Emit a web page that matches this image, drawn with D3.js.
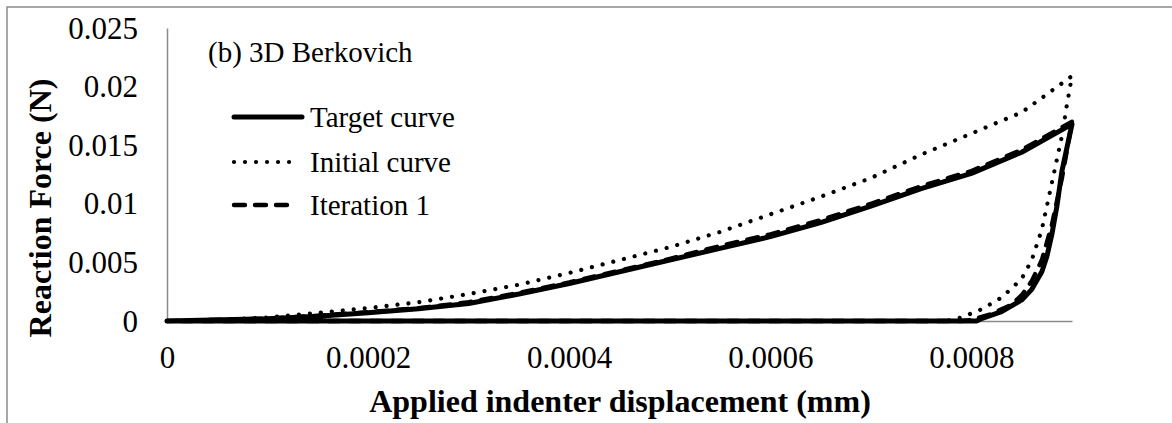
<!DOCTYPE html>
<html><head><meta charset="utf-8">
<script src="https://cdn.jsdelivr.net/npm/d3@7"></script>
<style>body{margin:0;background:#fff}svg{display:block}</style>
</head><body><svg id="c" width="1172" height="423"></svg>
<script>
// Tick values and labels
const xTicks = [0, 0.0002, 0.0004, 0.0006, 0.0008];
const xTickLabels = ["0", "0.0002", "0.0004", "0.0006", "0.0008"];
const yTicks = [0, 0.005, 0.01, 0.015, 0.02, 0.025];
const yTickLabels = ["0", "0.005", "0.01", "0.015", "0.02", "0.025"];
const seriesNames = ["Target curve", "Initial curve", "Iteration 1"];

// Target curve: loading, unloading, return along zero
const targetX = [0, 0.0001, 0.00015, 0.0002, 0.00025, 0.0003, 0.00035, 0.0004, 0.00045, 0.0005, 0.00055, 0.0006, 0.00065, 0.0007, 0.00075, 0.0008, 0.00085, 0.0009,
                 0.00089, 0.000885, 0.00088, 0.000875, 0.00087, 0.00086, 0.00085, 0.00083, 0.00081, 0.000805, 0];
const targetY = [0, 0.0002, 0.0004, 0.0007, 0.00105, 0.0015, 0.0023, 0.0032, 0.0042, 0.0052, 0.0062, 0.0072, 0.0084, 0.0098, 0.0113, 0.0126, 0.0144, 0.0168,
                 0.0128, 0.0098, 0.0074, 0.0055, 0.0042, 0.0027, 0.0018, 0.0008, 0.0002, 0, 0];
// Initial curve
const initialX = [0, 0.00005, 0.0001, 0.00015, 0.0002, 0.00025, 0.0003, 0.00035, 0.0004, 0.00045, 0.0005, 0.00055, 0.0006, 0.00065, 0.0007, 0.00075, 0.0008, 0.00085, 0.0009,
                  0.000895, 0.00089, 0.00088, 0.00087, 0.00086, 0.00085, 0.00083, 0.00081, 0.00079, 0.000775, 0];
const initialY = [0, 0.0001, 0.0003, 0.0007, 0.0011, 0.0016, 0.0023, 0.0031, 0.0041, 0.0052, 0.0063, 0.0076, 0.0091, 0.0106, 0.0122, 0.0142, 0.016, 0.0178, 0.0209,
                  0.0185, 0.0158, 0.0118, 0.0078, 0.0052, 0.0036, 0.002, 0.001, 0.0003, 0, 0];
// Iteration 1
const iterX = [0, 0.0001, 0.00015, 0.0002, 0.00025, 0.0003, 0.00035, 0.0004, 0.00045, 0.0005, 0.00055, 0.0006, 0.00065, 0.0007, 0.00075, 0.0008, 0.00085, 0.0009,
               0.00089, 0.00088, 0.00087, 0.00086, 0.00085, 0.00084, 0.00082, 0.0008, 0.00079, 0];
const iterY = [0, 0.0002, 0.00045, 0.00075, 0.0011, 0.0016, 0.0024, 0.0033, 0.0043, 0.0053, 0.0064, 0.0074, 0.0086, 0.01, 0.0115, 0.0128, 0.0146, 0.017,
               0.0122, 0.0082, 0.0052, 0.0034, 0.0022, 0.0014, 0.0006, 0.0001, 0, 0];

const svg = d3.select("#c");
svg.append("rect").attr("width", 1172).attr("height", 423).attr("fill", "#fff");
// chart border (top and left visible)
svg.append("path").attr("d", "M7,423 V7 H1172").attr("fill", "none").attr("stroke", "#8a8a8a").attr("stroke-width", 1.5);

const x = d3.scaleLinear().domain([0, 0.0009]).range([167, 1072]);
const y = d3.scaleLinear().domain([0, 0.025]).range([321, 28]);

const font = "'Liberation Serif','Times New Roman',serif";

// axes
const gx = svg.append("g").attr("transform", "translate(0,321)")
  .call(d3.axisBottom(x).tickValues(xTicks).tickSize(0).tickPadding(0).tickFormat((d, i) => xTickLabels[i]));
const gy = svg.append("g").attr("transform", "translate(167,0)")
  .call(d3.axisLeft(y).tickValues(yTicks).tickSize(0).tickPadding(0).tickFormat((d, i) => yTickLabels[i]));
[gx, gy].forEach(g => {
  g.select(".domain").attr("stroke", "#8a8a8a").attr("stroke-width", 1.5);
  g.selectAll("text").attr("font-family", font).attr("font-size", 31).attr("fill", "#000");
});
gx.selectAll("text").attr("dy", null).attr("y", 47);
gy.selectAll("text").attr("dy", null).attr("x", -29).attr("y", 10).attr("text-anchor", "end");

const styles = [
  {w: 5, dash: null, cap: "round"},
  {w: 4.2, dash: "0.01,11", cap: "round"},
  {w: 4.4, dash: "11,10", cap: "round"}
];
const data = [
  d3.zip(targetX, targetY),
  d3.zip(initialX, initialY),
  d3.zip(iterX, iterY)
];
const line = d3.line().x(d => x(d[0])).y(d => y(d[1]));
[1, 2, 0].forEach(i => {
  svg.append("path").datum(data[i]).attr("d", line)
    .attr("fill", "none").attr("stroke", "#000")
    .attr("stroke-width", styles[i].w)
    .attr("stroke-linejoin", "round")
    .attr("stroke-linecap", styles[i].cap)
    .attr("stroke-dasharray", styles[i].dash);
});

// Legend
const legY = [117, 162, 205];
const legX2 = [302, 293, 293];
seriesNames.forEach((name, i) => {
  svg.append("line").attr("x1", 234).attr("x2", legX2[i]).attr("y1", legY[i]).attr("y2", legY[i])
    .attr("stroke", "#000").attr("stroke-width", styles[i].w)
    .attr("stroke-linecap", styles[i].cap).attr("stroke-dasharray", styles[i].dash);
  svg.append("text").attr("x", 310).attr("y", legY[i] + 10).attr("font-family", font)
    .attr("font-size", 29).text(name);
});

svg.append("text").attr("x", 208).attr("y", 62).attr("font-family", font).attr("font-size", 29).text("(b) 3D Berkovich");

svg.append("text").attr("x", 620).attr("y", 412).attr("text-anchor", "middle")
  .attr("font-family", font).attr("font-weight", "bold").attr("font-size", 32)
  .text("Applied indenter displacement (mm)");
svg.append("text").attr("transform", "translate(51,208) rotate(-90)").attr("text-anchor", "middle")
  .attr("font-family", font).attr("font-weight", "bold").attr("font-size", 32)
  .text("Reaction Force (N)");
</script>
</body></html>
